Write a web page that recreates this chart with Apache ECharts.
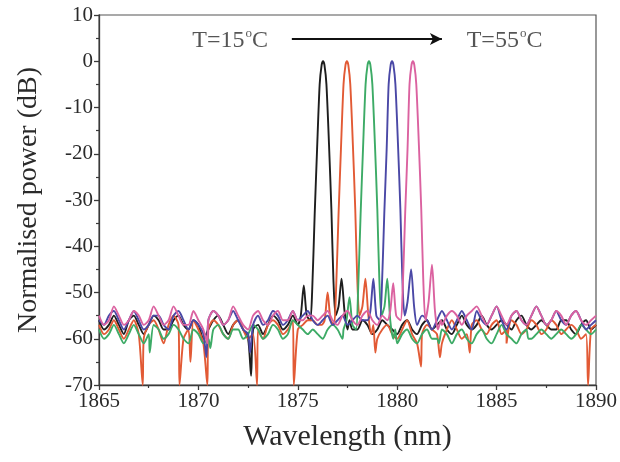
<!DOCTYPE html>
<html>
<head>
<meta charset="utf-8">
<script src="https://cdn.jsdelivr.net/npm/echarts@6/dist/echarts.min.js"></script>
<style>html,body{margin:0;padding:0;background:#fff}#c{width:620px;height:462px}</style>
</head>
<body>
<div id="c"></div>
<script>
// Sampling wavelengths (nm) for the noise floor
const wavelengths = [
1865,1865.25,1865.5,1865.75,1866,1866.25,1866.5,1866.75,1867,1867.25,1867.5,1867.75,
1868,1868.25,1868.5,1868.75,1869,1869.25,1869.5,1869.75,1870,1870.25,1870.5,1870.75,
1871,1871.25,1871.5,1871.75,1872,1872.25,1872.5,1872.75,1873,1873.25,1873.5,1873.75,
1874,1874.25,1874.5,1874.75,1875,1875.25,1875.5,1875.75,1876,1876.25,1876.5,1876.75,
1877,1877.25,1877.5,1877.75,1878,1878.25,1878.5,1878.75,1879,1879.25,1879.5,1879.75,
1880,1880.25,1880.5,1880.75,1881,1881.25,1881.5,1881.75,1882,1882.25,1882.5,1882.75,
1883,1883.25,1883.5,1883.75,1884,1884.25,1884.5,1884.75,1885,1885.25,1885.5,1885.75,
1886,1886.25,1886.5,1886.75,1887,1887.25,1887.5,1887.75,1888,1888.25,1888.5,1888.75,
1889,1889.25,1889.5,1889.75,1890];

const seriesNames = ['T=15°C','T=25°C','T=35°C','T=45°C','T=55°C'];

// Noise floor (dB) at the wavelengths above
const floorBlack = [
-56,-58,-57,-55, -57,-59,-56,-55, -57,-59,-57,-55, -56,-58,-58,-56, -55,-57,-58,-56,
-57,-60,-58,-56, -55,-57,-59,-57, -56,-58,-60,-58, -57,-59,-57,-55, -56,-58,-57,-55,
-57,-56,-55,-56, -57,-57,-57,-57, -57,-57,-57,-58, -58,-56,-57,-59, -58,-56,-57,-58,
-59,-57,-56,-58, -59,-57,-56,-58, -57,-56,-58,-59, -57,-55,-57,-58, -57,-55,-57,-58,
-57,-56,-57,-58, -56,-55,-57,-58, -57,-56,-57,-58, -58,-56,-56,-58, -59,-57,-56,-58, -57];
const floorRed = [
-57,-59,-58,-56, -58,-60,-58,-56, -59,-60,-57,-56, -58,-61,-57,-55, -57,-60,-58,-56,
-58,-61,-58,-56, -57,-59,-60,-57, -56,-58,-60,-59, -58,-60,-57,-56, -57,-59,-58,-56,
-58,-57,-56,-56, -57,-58,-57,-57, -57,-57,-57,-57, -57,-57,-57,-57, -60,-58,-57,-59,
-60,-58,-56,-59, -61,-59,-57,-58, -59,-61,-58,-56, -58,-60,-59,-57, -56,-58,-59,-57,
-56,-59,-58,-56, -57,-59,-58,-56, -57,-59,-58,-56, -57,-59,-58,-57, -58,-60,-59,-58, -57];
const floorGreen = [
-58,-60,-59,-57, -59,-61,-59,-57, -59,-61,-59,-57, -58,-60,-59,-57, -58,-60,-61,-58,
-59,-61,-60,-58, -57,-59,-60,-58, -58,-60,-59,-57, -58,-60,-59,-57, -58,-60,-59,-56,
-57,-58,-59,-58, -59,-60,-58,-57, -58,-60,-59,-57, -58,-58,-58,-58, -58,-58,-58,-60,
-61,-59,-58,-60, -61,-59,-58,-60, -60,-58,-59,-61, -59,-58,-60,-61, -59,-58,-60,-61,
-59,-57,-59,-60, -61,-59,-58,-60, -59,-58,-59,-60, -59,-58,-59,-60, -59,-57,-58,-59, -58];
const floorBlue = [
-56,-57,-55,-54, -56,-58,-56,-54, -56,-58,-57,-55, -55,-57,-58,-55, -54,-56,-58,-56,
-57,-59,-56,-54, -55,-57,-56,-54, -56,-58,-59,-57, -55,-57,-56,-54, -55,-57,-56,-54,
-56,-55,-54,-56, -57,-56,-55,-57, -56,-55,-57,-56, -55,-56,-56,-56, -56,-56,-56,-56,
-56,-56,-56,-56, -57,-55,-56,-58, -56,-54,-56,-58, -56,-54,-56,-58, -54,-56,-57,-55,
-53,-56,-58,-55, -54,-56,-57,-55, -53,-55,-57,-56, -54,-56,-57,-55, -54,-56,-58,-57, -56];
const floorPink = [
-55,-57,-56,-53, -55,-57,-56,-54, -55,-57,-56,-53, -55,-57,-56,-53, -55,-57,-57,-54,
-56,-58,-56,-54, -55,-57,-56,-53, -55,-57,-58,-55, -54,-56,-57,-55, -54,-56,-56,-54,
-56,-56,-55,-55, -56,-55,-54,-56, -57,-55,-54,-56, -57,-55,-54,-56, -57,-55,-56,-56,
-56,-56,-56,-56, -56,-56,-56,-56, -56,-57,-55,-54, -55,-57,-55,-54, -53,-55,-57,-55,
-53,-55,-57,-55, -54,-56,-57,-55, -53,-55,-57,-56, -54,-55,-57,-55, -54,-56,-57,-56, -55];

// Main peak + side lobes: [wavelength nm, dB]
const peakBlack = [[1875.0,-57],[1875.15,-55],[1875.3,-48.5],[1875.45,-55],[1875.62,-56],[1875.72,-50],[1875.85,-33],[1875.97,-19],[1876.1,-5],[1876.2,-0.8],[1876.27,0],[1876.34,-0.8],[1876.44,-5],[1876.57,-18],[1876.69,-32],[1876.79,-47],[1876.9,-55],[1877.05,-53],[1877.2,-47],[1877.35,-54],[1877.5,-58],[1877.6,-56]];
const peakRed = [[1876.2,-57],[1876.35,-56],[1876.5,-50],[1876.65,-56],[1876.82,-57],[1876.92,-50],[1877.05,-33],[1877.17,-19],[1877.3,-5],[1877.4,-0.8],[1877.47,0],[1877.54,-0.8],[1877.64,-5],[1877.77,-18],[1877.89,-32],[1877.99,-47],[1878.1,-55],[1878.25,-53],[1878.4,-47],[1878.55,-55],[1878.7,-59],[1878.8,-57]];
const peakGreen = [[1877.3,-58],[1877.45,-56],[1877.6,-51],[1877.75,-57],[1877.93,-58],[1878.03,-50],[1878.16,-33],[1878.28,-19],[1878.41,-5],[1878.51,-0.8],[1878.58,0],[1878.65,-0.8],[1878.75,-5],[1878.88,-18],[1879.0,-32],[1879.1,-47],[1879.21,-55],[1879.36,-53],[1879.5,-47],[1879.65,-56],[1879.8,-60],[1879.9,-58]];
const peakBlue = [[1878.5,-56],[1878.65,-54],[1878.8,-47],[1878.95,-55],[1879.12,-56],[1879.22,-50],[1879.35,-33],[1879.47,-19],[1879.57,-5],[1879.67,-0.8],[1879.74,0],[1879.81,-0.8],[1879.91,-5],[1880.04,-18],[1880.16,-32],[1880.26,-47],[1880.37,-55],[1880.52,-52],[1880.7,-45],[1880.85,-53],[1881.0,-57]];
const peakPink = [[1879.5,-56],[1879.65,-54],[1879.8,-48],[1879.95,-55],[1880.17,-56],[1880.27,-50],[1880.4,-33],[1880.52,-19],[1880.62,-5],[1880.72,-0.8],[1880.79,0],[1880.86,-0.8],[1880.96,-5],[1881.09,-18],[1881.21,-32],[1881.31,-47],[1881.42,-56],[1881.58,-52],[1881.75,-44],[1881.9,-54],[1882.05,-58],[1882.2,-56]];

// Sharp dips in the floor: [wavelength nm, dB]
const dipsBlack = [[1872.65,-68]];
const dipsRed = [[1867.2,-70],[1869.05,-70],[1869.6,-65],[1870.45,-70],[1872.95,-70],[1874.8,-70],[1878.9,-63],[1881.2,-66],[1882.15,-64],[1883.65,-63],[1885.5,-61],[1889.6,-70]];
const dipsGreen = [[1867.55,-63],[1870.6,-62],[1882.1,-61],[1886.6,-60]];
const dipsBlue = [[1870.4,-64],[1872.6,-63]];
const dipsPink = [[1870.45,-61]];

const colors = ['#1e1e1e','#e25a35','#3dab66','#4a48a6','#db62a0'];

// annotation
const arrowFrom = [1874.7, 4.8];
const arrowTo = [1882.25, 4.8];
const noteLeft = {x: 1871.6, y: 4.6, t: '15'};
const noteRight = {x: 1885.4, y: 4.6, t: '55'};

function build(floor, peak, dips) {
  const lo = peak[0][0], hi = peak[peak.length - 1][0];
  const pts = [];
  wavelengths.forEach((x, i) => { if (x < lo || x > hi) pts.push([x, floor[i]]); });
  peak.forEach(p => pts.push(p));
  dips.forEach(p => pts.push(p));
  pts.sort((a, b) => a[0] - b[0]);
  return pts;
}

const all = [
  build(floorBlack, peakBlack, dipsBlack),
  build(floorRed, peakRed, dipsRed),
  build(floorGreen, peakGreen, dipsGreen),
  build(floorBlue, peakBlue, dipsBlue),
  build(floorPink, peakPink, dipsPink)
];

const font = 'Liberation Serif';
const series = all.map((d, k) => ({
  name: seriesNames[k], type: 'line', data: d, showSymbol: false, smooth: 0.25,
  lineStyle: {width: 1.9, color: colors[k]}, itemStyle: {color: colors[k]}, z: 2 + k
}));

const noteLabel = t => ({
  show: true, position: 'inside',
  formatter: '{n|T=' + t + '}{s|o}{n|C}',
  rich: {
    n: {fontFamily: font, fontSize: 24, color: '#2a2a2a', lineHeight: 26, verticalAlign: 'bottom'},
    s: {fontFamily: font, fontSize: 13, color: '#2a2a2a', lineHeight: 26, verticalAlign: 'top', padding: [0, 0, 0, 1]}
  }
});

series.push({
  type: 'scatter', symbolSize: 0, silent: true, z: 10,
  data: [
    {value: [noteLeft.x, noteLeft.y], label: noteLabel(noteLeft.t)},
    {value: [noteRight.x, noteRight.y], label: noteLabel(noteRight.t)}
  ],
  markLine: {
    silent: true, symbol: ['none', 'arrow'], symbolSize: [9, 12],
    lineStyle: {color: '#111', width: 2, type: 'solid'},
    label: {show: false},
    data: [[{coord: arrowFrom}, {coord: arrowTo}]]
  }
});

const axisCommon = {
  axisLine: {show: true, onZero: false, lineStyle: {color: '#3a3a3a', width: 1.3}},
  axisTick: {show: true, inside: false, length: 5, lineStyle: {color: '#3a3a3a', width: 1.3}},
  minorTick: {show: true, splitNumber: 2, length: 3, lineStyle: {color: '#3a3a3a', width: 1.2}},
  splitLine: {show: false}
};

const chart = echarts.init(document.getElementById('c'), null, {renderer: 'canvas'});
chart.setOption({
  animation: false,
  backgroundColor: '#fff',
  grid: {left: 99, right: 24, top: 15, bottom: 77, show: true, borderColor: '#555', borderWidth: 1.2, backgroundColor: 'transparent'},
  xAxis: Object.assign({}, axisCommon, {
    type: 'value', min: 1865, max: 1890, interval: 5,
    name: 'Wavelength (nm)', nameLocation: 'middle', nameGap: 37,
    nameTextStyle: {fontFamily: font, fontSize: 30, color: '#2a2a2a'},
    axisLabel: {fontFamily: font, fontSize: 21, color: '#2a2a2a', margin: 6, showMaxLabel: true, showMinLabel: true,
      formatter: v => String(v)}
  }),
  yAxis: Object.assign({}, axisCommon, {
    type: 'value', min: -70, max: 10, interval: 10,
    name: 'Normalised power (dB)', nameLocation: 'middle', nameGap: 56,
    nameTextStyle: {fontFamily: font, fontSize: 28, color: '#2a2a2a'},
    axisLabel: {fontFamily: font, fontSize: 21, color: '#2a2a2a', margin: 6, showMaxLabel: true, showMinLabel: true,
      formatter: v => String(v)}
  }),
  series: series
});
</script>
</body>
</html>
